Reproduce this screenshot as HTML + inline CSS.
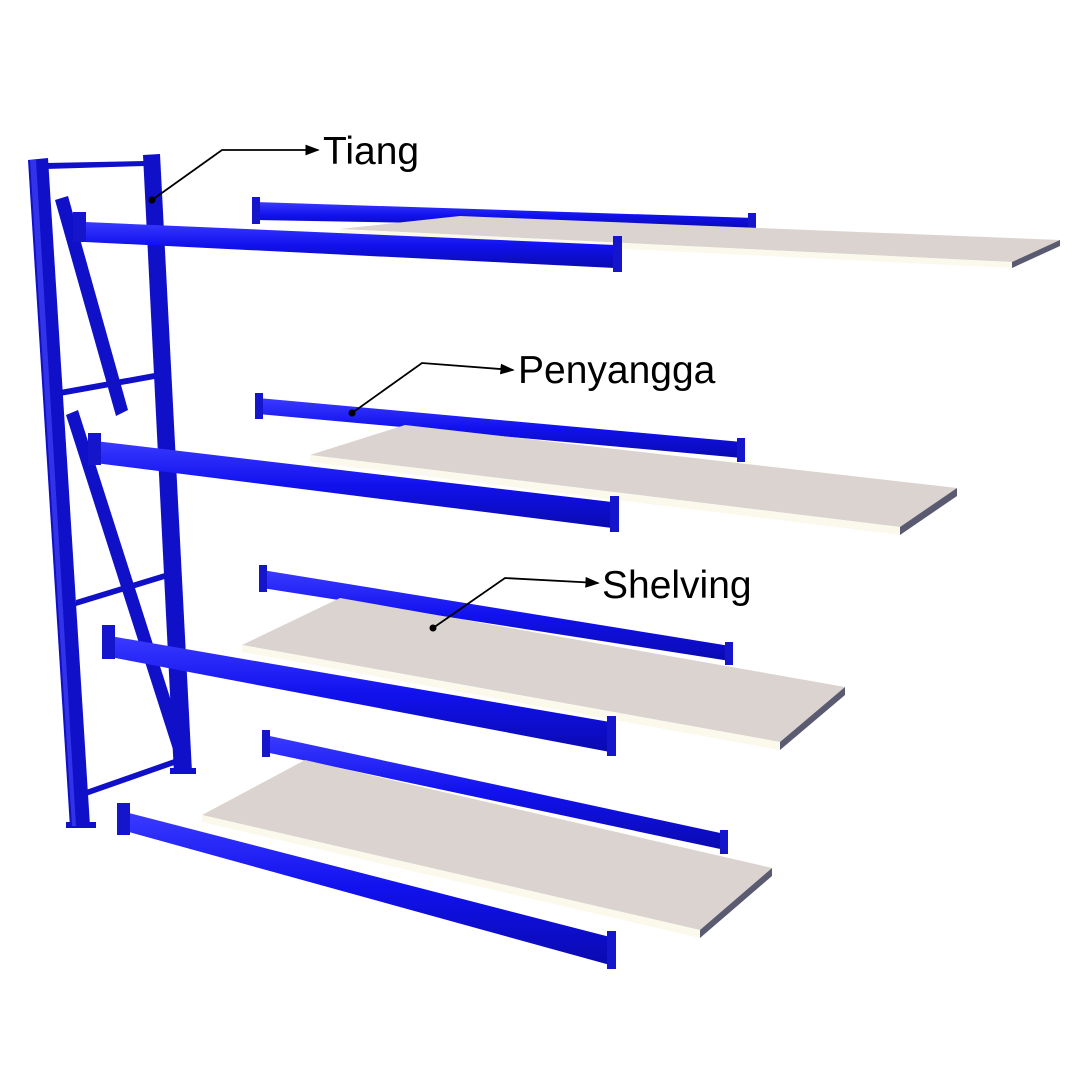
<!DOCTYPE html>
<html><head><style>
html,body{margin:0;padding:0;background:#fff;}
svg{display:block;}
text{font-family:"Liberation Sans",sans-serif;font-size:39px;fill:#000;}
</style></head><body>
<svg width="1084" height="1081" viewBox="0 0 1084 1081" xmlns="http://www.w3.org/2000/svg">
<defs>
<linearGradient id="bm" x1="0" y1="0" x2="0" y2="1">
<stop offset="0" stop-color="#3a3aff"/><stop offset="0.5" stop-color="#1111ee"/><stop offset="1" stop-color="#0a0ab0"/>
</linearGradient>
<marker id="ar" markerWidth="8" markerHeight="6" refX="7" refY="3" orient="auto"><path d="M0,0 L8,3 L0,6 z" fill="#000"/></marker>
</defs>
<g fill="url(#bm)">
<polygon points="255,202 755,218 755,229 255,220"/>
<polygon points="258,398 742,442 742,458 258,414"/>
<polygon points="262,570 730,646 730,661 262,588"/>
<polygon points="265,735 725,834 725,850 265,752"/>
</g>
<g fill="#1515cc">
<rect x="252" y="197" width="8" height="27"/><rect x="748" y="213" width="8" height="18"/>
<rect x="255" y="393" width="8" height="26"/><rect x="737" y="438" width="8" height="24"/>
<rect x="259" y="565" width="8" height="27"/><rect x="725" y="642" width="8" height="23"/>
<rect x="262" y="730" width="8" height="27"/><rect x="720" y="830" width="8" height="24"/>
</g>
<g>
<polygon points="340,229 460,216 1060,240 1012,262" fill="#dbd3cf"/>
<polygon points="340,229 1012,262 1012,268 340,235" fill="#fbf8ec"/>
<polygon points="1012,262 1060,240 1060,246 1012,268" fill="#5a5a70"/>
<polygon points="310,455 405,425 957,488 900,527" fill="#dbd3cf"/>
<polygon points="310,455 900,527 900,535 310,462" fill="#fbf8ec"/>
<polygon points="900,527 957,488 957,496 900,535" fill="#5a5a70"/>
<polygon points="242,645 340,598 845,687 780,742" fill="#dbd3cf"/>
<polygon points="242,645 780,742 780,750 242,652" fill="#fbf8ec"/>
<polygon points="780,742 845,687 845,695 780,750" fill="#5a5a70"/>
<polygon points="202,815 305,760 772,868 700,930" fill="#dbd3cf"/>
<polygon points="202,815 700,930 700,938 202,822" fill="#fbf8ec"/>
<polygon points="700,930 772,868 772,876 700,938" fill="#5a5a70"/>
</g>
<g fill="#1010c8">
<polygon points="28,160 48,158 90,826 70,828"/>
<polygon points="143,155 160,154 192,772 174,774"/>
<polygon points="46,163 145,161 145,166 46,169"/>
<polygon points="60,390 160,372 160,378 60,396"/>
<polygon points="76,600 168,572 168,578 76,606"/>
<polygon points="86,790 180,757 180,763 86,796"/>
<polygon points="55,200 68,196 128,410 116,416"/>
<polygon points="66,415 78,410 190,760 178,765"/>
<rect x="66" y="822" width="30" height="6"/>
<rect x="170" y="768" width="26" height="6"/>
</g>
<g fill="#4a4aff" opacity="0.6">
<polygon points="30,160 36,160 76,826 72,826"/>
</g>
<g fill="url(#bm)">
<polygon points="85,222 615,245 615,268 85,242"/>
<polygon points="95,441 612,502 612,528 95,463"/>
<polygon points="110,636 610,722 610,752 110,657"/>
<polygon points="125,812 610,937 610,965 125,831"/>
</g>
<g fill="#1515cc">
<rect x="73" y="212" width="13" height="30"/><rect x="613" y="236" width="9" height="36"/>
<rect x="88" y="433" width="13" height="32"/><rect x="610" y="496" width="9" height="36"/>
<rect x="102" y="625" width="13" height="34"/><rect x="607" y="716" width="9" height="40"/>
<rect x="117" y="803" width="13" height="32"/><rect x="607" y="931" width="9" height="38"/>
</g>
<g stroke="#000" stroke-width="1.8" fill="none">
<polyline points="152,200 222,150 318,150" marker-end="url(#ar)"/>
<polyline points="352,413 422,363 513,370" marker-end="url(#ar)"/>
<polyline points="433,628 505,578 598,583" marker-end="url(#ar)"/>
</g>
<circle cx="152" cy="200" r="3.5" fill="#000"/>
<circle cx="352" cy="413" r="3.5" fill="#000"/>
<circle cx="433" cy="628" r="3.5" fill="#000"/>
<text x="323" y="164">Tiang</text>
<text x="518" y="383">Penyangga</text>
<text x="602" y="598">Shelving</text>
</svg>
</body></html>
